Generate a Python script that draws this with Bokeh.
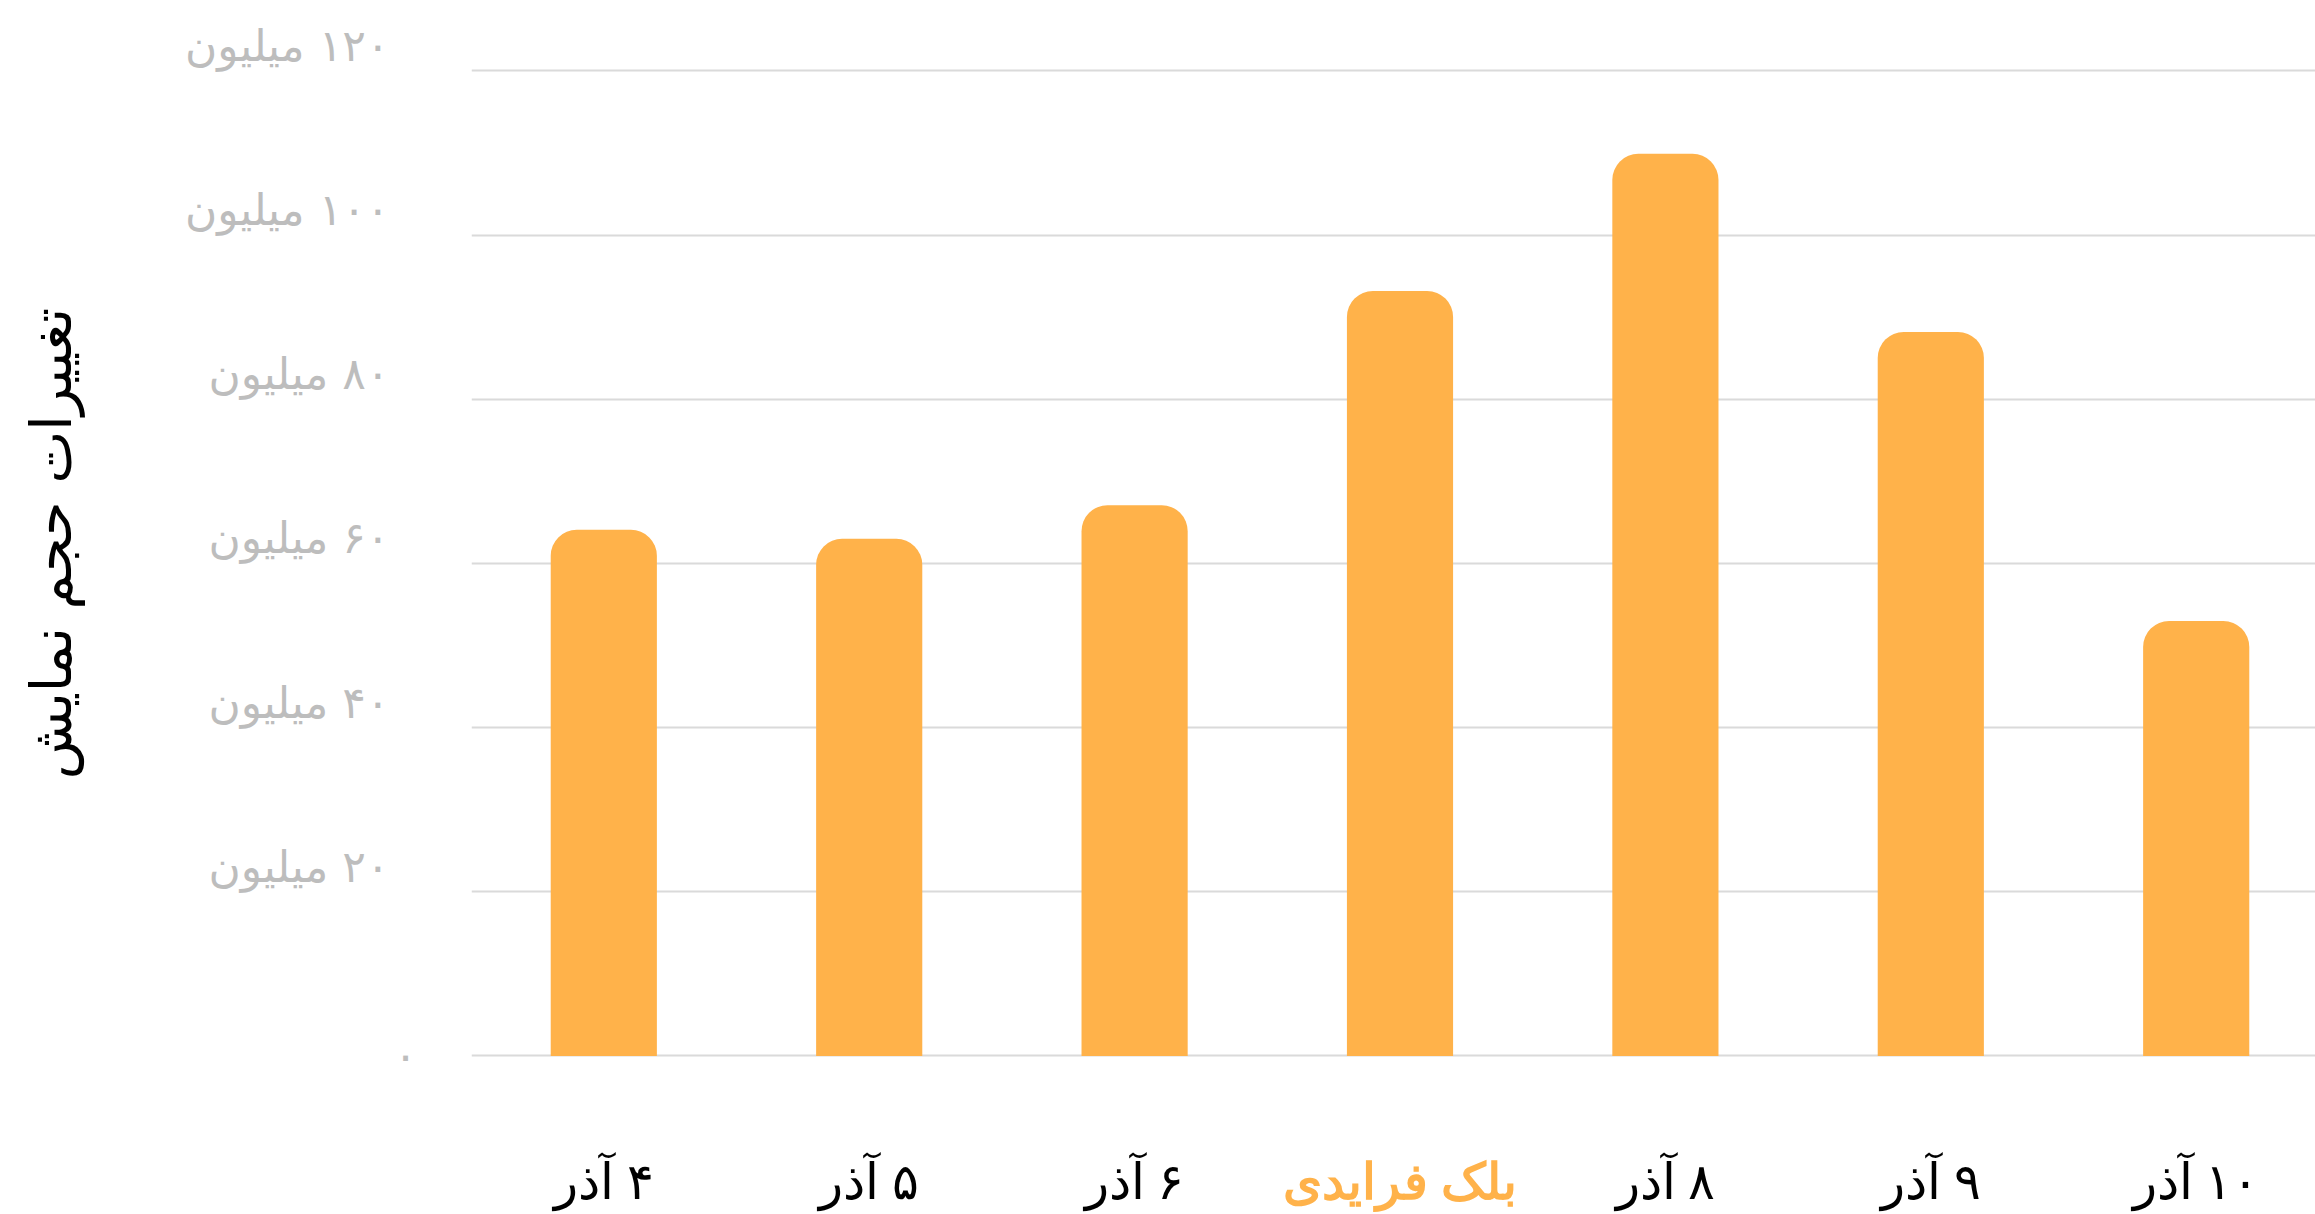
from bokeh.plotting import figure
from bokeh.models import Range1d, FixedTicker, ColumnDataSource, LabelSet
from bokeh.embed import file_html
from bokeh.resources import INLINE

# ---- data ----
categories = ["۴ آذر", "۵ آذر", "۶ آذر", "بلک فرایدی", "۸ آذر", "۹ آذر", "۱۰ آذر"]
views_million = [64.1, 63.0, 67.1, 93.2, 109.9, 88.2, 53.0]
y_ticks = [0, 20, 40, 60, 80, 100, 120]
y_tick_labels = ["۰", "۲۰ میلیون", "۴۰ میلیون", "۶۰ میلیون", "۸۰ میلیون", "۱۰۰ میلیون", "۱۲۰ میلیون"]
y_title = "تغییرات حجم نمایش"
highlight = "بلک فرایدی"

BAR = "#FFB24A"
FONT = "DejaVu Sans"
RLM = "\u200F"
NBSP = "\u00A0"

xs = list(range(len(categories)))
colors = [BAR if c == highlight else "#000000" for c in categories]
styles = ["bold" if c == highlight else "normal" for c in categories]


def tick_text(t, label):
    if t == 0:
        return label
    # lift label above its grid line (second empty line) and pad on the right
    return RLM + NBSP * 2 + label + "\n" + NBSP


p = figure(width=2315, height=1214, output_backend="svg", toolbar_location=None,
           x_range=Range1d(-0.4985, 6.4495), y_range=Range1d(-19.32, 120.3),
           min_border_left=471, min_border_right=0, min_border_top=68, min_border_bottom=0)
p.outline_line_color = None
p.background_fill_color = "white"

p.vbar(x=xs, top=views_million, bottom=0, width=0.4, fill_color=BAR, line_color=None,
       border_radius=(26, 26, 0, 0))

# y axis
yax = p.yaxis[0]
yax.ticker = FixedTicker(ticks=y_ticks)
yax.major_label_overrides = {t: tick_text(t, l) for t, l in zip(y_ticks, y_tick_labels)}
yax.axis_line_color = None
yax.major_tick_line_color = None
yax.minor_tick_line_color = None
yax.major_label_text_color = "#BDBDBD"
yax.major_label_text_font = FONT
yax.major_label_text_font_size = "44px"
yax.major_label_text_line_height = 1.0
yax.major_label_standoff = 48
yax.axis_label = y_title + NBSP * 11 + RLM
yax.axis_label_text_font = FONT
yax.axis_label_text_font_size = "56px"
yax.axis_label_text_font_style = "normal"
yax.axis_label_text_color = "#000000"
yax.axis_label_standoff = 98

p.ygrid.ticker = FixedTicker(ticks=y_ticks)
p.ygrid.grid_line_color = "#DADADA"
p.ygrid.grid_line_width = 2
p.xgrid.grid_line_color = None

p.xaxis.visible = False

src = ColumnDataSource(dict(x=xs, y=[-15.3] * len(xs), text=[RLM + c for c in categories],
                            color=colors, style=styles))
labels = LabelSet(x="x", y="y", text="text", source=src,
                  text_align="center", text_baseline="middle", text_color="color",
                  text_font=FONT, text_font_size="50px", text_font_style="style")
p.add_layout(labels)

open("out.html", "w").write(file_html(p, INLINE))
